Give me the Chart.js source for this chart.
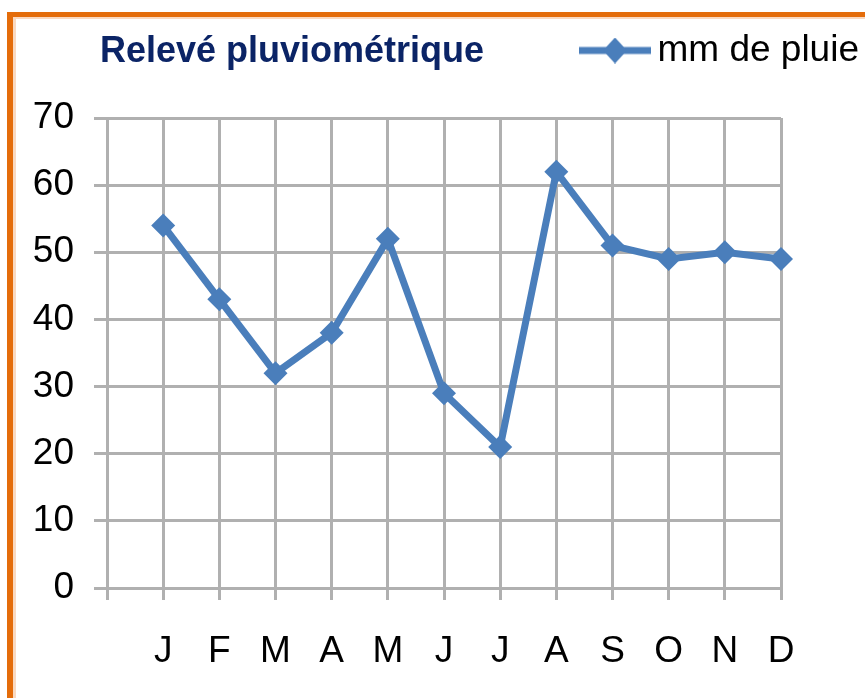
<!DOCTYPE html>
<html>
<head>
<meta charset="utf-8">
<script src="https://cdn.jsdelivr.net/npm/chart.js@4.4.1/dist/chart.umd.min.js"></script>
<style>
  html, body { margin: 0; padding: 0; background: #ffffff; }
  #wrap { position: relative; width: 865px; height: 698px; }
</style>
</head>
<body>
<div id="wrap"><canvas id="c"></canvas></div>
<script>
// ---- data ----
const titleText = 'Relevé pluviométrique';
const seriesName = 'mm de pluie';
const months = ['J', 'F', 'M', 'A', 'M', 'J', 'J', 'A', 'S', 'O', 'N', 'D'];
const rainfall = [54, 43, 32, 38, 52, 29, 21, 62, 51, 49, 50, 49];
const yTicks = [0, 10, 20, 30, 40, 50, 60, 70];

// category axis starts with an empty slot (as in the original)
const labels = [''].concat(months);
const values = [null].concat(rainfall);

const BLUE = '#4a7ebb';
const GRID = '#b0b0b0';
const FONT = "'Liberation Sans', Arial, sans-serif";

// legend symbol: line with diamond
const sym = document.createElement('canvas');
sym.width = 72; sym.height = 26;
(function () {
  const g = sym.getContext('2d');
  g.strokeStyle = BLUE; g.lineWidth = 7;
  g.beginPath(); g.moveTo(0, 13); g.lineTo(72, 13); g.stroke();
  g.fillStyle = BLUE;
  g.beginPath(); g.moveTo(36, 0); g.lineTo(48, 13); g.lineTo(36, 26); g.lineTo(24, 13); g.closePath(); g.fill();
})();

// orange frame (top-left corner of the original chart box)
const frame = {
  id: 'frame',
  beforeDraw(chart) {
    const ctx = chart.ctx;
    ctx.save();
    ctx.fillStyle = '#ffffff';
    ctx.fillRect(0, 0, chart.width, chart.height);
    ctx.fillStyle = '#fad9c0';
    ctx.fillRect(13, 17, 3, chart.height);
    ctx.fillRect(13, 17, chart.width, 2);
    ctx.fillStyle = '#e46c0a';
    ctx.fillRect(7, 12, 6, chart.height);
    ctx.fillRect(7, 12, chart.width, 5);
    ctx.restore();
  }
};

// chart title, left-aligned on the same row as the legend
const titlePlugin = {
  id: 'rowTitle',
  afterDraw(chart) {
    const ctx = chart.ctx;
    ctx.save();
    ctx.font = 'bold 36px ' + FONT;
    ctx.fillStyle = '#0b2466';
    ctx.textAlign = 'left';
    ctx.textBaseline = 'alphabetic';
    ctx.fillText(titleText, 100, 62);
    ctx.restore();
  }
};

new Chart(document.getElementById('c'), {
  type: 'line',
  data: {
    labels: labels,
    datasets: [{
      label: seriesName,
      data: values,
      xAxisID: 'x',
      yAxisID: 'y',
      borderColor: BLUE,
      backgroundColor: BLUE,
      borderWidth: 7,
      tension: 0,
      pointStyle: 'rectRot',
      pointRadius: 12,
      pointBorderWidth: 0,
      pointBackgroundColor: BLUE,
      pointBorderColor: BLUE
    }]
  },
  options: {
    responsive: true,
    maintainAspectRatio: false,
    animation: false,
    layout: { padding: { left: 0, right: 0, top: 26, bottom: 0 } },
    plugins: {
      tooltip: { enabled: false },
      title: { display: false },
      legend: {
        display: true,
        position: 'top',
        align: 'end',
        labels: {
          usePointStyle: true,
          pointStyle: sym,
          pointStyleWidth: 48,
          padding: 6,
          color: '#000000',
          font: { family: FONT, size: 37 }
        }
      }
    },
    scales: {
      x: {
        type: 'category',
        position: 'bottom',
        offset: false,
        grid: { display: true, color: GRID, lineWidth: 3, drawTicks: true, tickLength: 12, tickColor: GRID },
        border: { display: true, color: GRID, width: 3 },
        ticks: {
          color: '#000000',
          font: { family: FONT, size: 37 },
          padding: 30,
          maxRotation: 0,
          autoSkip: false
        },
        afterFit(s) { s.height = 110; }
      },
      y: {
        type: 'linear',
        position: 'left',
        min: 0,
        max: 70,
        afterBuildTicks(s) { s.ticks = yTicks.map(v => ({ value: v })); },
        grid: { display: true, color: GRID, lineWidth: 3, drawTicks: true, tickLength: 13, tickColor: GRID },
        border: { display: true, color: GRID, width: 3 },
        ticks: {
          color: '#000000',
          font: { family: FONT, size: 37 },
          padding: 20
        },
        afterFit(s) { s.width = 107; }
      },
      xTop: {
        type: 'linear',
        axis: 'x',
        position: 'top',
        display: true,
        min: 0, max: 1,
        grid: { display: false },
        border: { display: false },
        ticks: { display: false },
        afterFit(s) { s.height = 39; }
      },
      yRight: {
        type: 'linear',
        axis: 'y',
        position: 'right',
        display: true,
        min: 0, max: 1,
        grid: { display: false },
        border: { display: false },
        ticks: { display: false },
        afterFit(s) { s.width = 84; }
      }
    }
  },
  plugins: [frame, titlePlugin]
});
</script>
</body>
</html>
